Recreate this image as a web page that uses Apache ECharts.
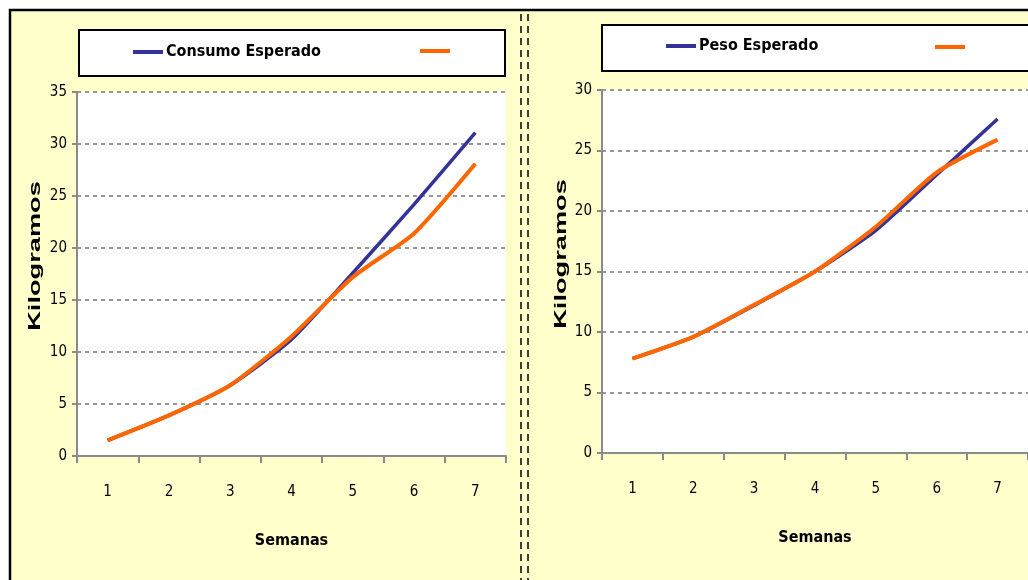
<!DOCTYPE html>
<html>
<head>
<meta charset="utf-8">
<title>Consumo y Peso Esperado</title>
<script src="https://cdn.jsdelivr.net/npm/echarts@6/dist/echarts.min.js"></script>
<style>
  html, body { margin: 0; padding: 0; background: #fff; }
  #chart { width: 1028px; height: 580px; }
</style>
</head>
<body>
<div id="chart"></div>
<script>
// Weekly values (kg)
const weeks = ['1', '2', '3', '4', '5', '6', '7'];
const consumoEsperado = [1.5, 3.9, 6.8, 11.2, 17.6, 24.2, 31.1];
const consumoReal = [1.5, 3.9, 6.8, 11.5, 17.2, 21.4, 28.1];
const pesoEsperado = [7.8, 9.6, 12.2, 15.0, 18.4, 23.0, 27.6];
const pesoReal = [7.8, 9.6, 12.25, 15.0, 18.7, 23.2, 25.9];

// Axis ranges
const consumoMax = 35;
const pesoMax = 30;
const yStep = 5;

const BLUE = '#333399';
const ORANGE = '#FF6600';
const AXIS = '#8a8a8a';
const NARROW = '"DejaVu Sans Condensed", "Liberation Sans Narrow", sans-serif';

const chart = echarts.init(document.getElementById('chart'), null, { renderer: 'canvas' });

function yAxisFor(gridIndex, max) {
  return {
    type: 'value', gridIndex, min: 0, max, interval: yStep,
    axisLine: { show: true, lineStyle: { color: AXIS, width: 2 } },
    axisTick: { show: true, length: 5, lineStyle: { color: AXIS, width: 2 } },
    axisLabel: { color: '#000', fontFamily: NARROW, fontSize: 15, margin: 10 },
    splitLine: { show: true, lineStyle: { color: '#999', width: 2, type: [4, 4] } }
  };
}

function xAxisFor(gridIndex) {
  return {
    type: 'category', gridIndex, data: weeks, boundaryGap: true,
    axisLine: { show: true, lineStyle: { color: AXIS, width: 2 } },
    axisTick: { show: true, length: 7, interval: 0, lineStyle: { color: AXIS, width: 2 } },
    axisLabel: { color: '#000', fontFamily: NARROW, fontSize: 15, margin: 29, interval: 0 },
    splitLine: { show: false },
    name: 'Semanas', nameLocation: 'middle', nameGap: 77,
    nameTextStyle: { color: '#000', fontFamily: NARROW, fontWeight: 'bold', fontSize: 16 }
  };
}

function lineSeries(name, data, color, width, idx) {
  return {
    name, type: 'line', data, xAxisIndex: idx, yAxisIndex: idx,
    symbol: 'none', smooth: 0.2, color,
    lineStyle: { color, width }, z: 3
  };
}

function legendFor(name, left, top, showText) {
  return {
    data: [name], left, top, padding: 0, icon: 'rect',
    itemWidth: 30, itemHeight: 4, itemGap: 0, selectedMode: false,
    formatter: showText ? '{name}' : () => '',
    textStyle: { color: '#000', fontFamily: NARROW, fontWeight: 'bold', fontSize: 16, padding: [0, 0, 0, -2] }
  };
}

const option = {
  backgroundColor: '#ffffff',
  animation: false,
  graphic: [
    // panel background and frame
    { type: 'rect', z: -10, shape: { x: 10, y: 10, width: 1030, height: 580 },
      style: { fill: '#FFFFCC', stroke: '#000', lineWidth: 2.5 } },
    // break between the two panels
    { type: 'line', z: -9, shape: { x1: 521, y1: 14, x2: 521, y2: 580 },
      style: { stroke: '#000', lineWidth: 1.5, lineDash: [7, 5] } },
    { type: 'line', z: -9, shape: { x1: 528, y1: 14, x2: 528, y2: 580 },
      style: { stroke: '#000', lineWidth: 1.5, lineDash: [7, 5] } },
    // legend boxes
    { type: 'rect', z: -8, shape: { x: 79, y: 30, width: 426, height: 46 },
      style: { fill: '#fff', stroke: '#000', lineWidth: 2 } },
    { type: 'rect', z: -8, shape: { x: 602, y: 25, width: 440, height: 46 },
      style: { fill: '#fff', stroke: '#000', lineWidth: 2 } },
    // y-axis titles
    { type: 'text', x: 35, y: 256, rotation: Math.PI / 2, scaleX: 1.6,
      style: { text: 'Kilogramos', fill: '#000', font: 'bold 17px "Liberation Sans", Arial, sans-serif',
               textAlign: 'center', textVerticalAlign: 'middle' } },
    { type: 'text', x: 561, y: 254, rotation: Math.PI / 2, scaleX: 1.6,
      style: { text: 'Kilogramos', fill: '#000', font: 'bold 17px "Liberation Sans", Arial, sans-serif',
               textAlign: 'center', textVerticalAlign: 'middle' } }
  ],
  legend: [
    legendFor('Consumo Esperado', 133, 44, true),
    legendFor('Consumo Real', 420, 49, false),
    legendFor('Peso Esperado', 666, 38, true),
    legendFor('Peso Real', 935, 45, false)
  ],
  grid: [
    { left: 77, top: 92, width: 429, height: 364, show: true, backgroundColor: '#fff', borderWidth: 0 },
    { left: 602, top: 90, width: 429, height: 363, show: true, backgroundColor: '#fff', borderWidth: 0 }
  ],
  xAxis: [xAxisFor(0), xAxisFor(1)],
  yAxis: [yAxisFor(0, consumoMax), yAxisFor(1, pesoMax)],
  series: [
    lineSeries('Consumo Esperado', consumoEsperado, BLUE, 3.5, 0),
    lineSeries('Consumo Real', consumoReal, ORANGE, 4, 0),
    lineSeries('Peso Esperado', pesoEsperado, BLUE, 3.5, 1),
    lineSeries('Peso Real', pesoReal, ORANGE, 4, 1)
  ]
};

chart.setOption(option);
</script>
</body>
</html>
